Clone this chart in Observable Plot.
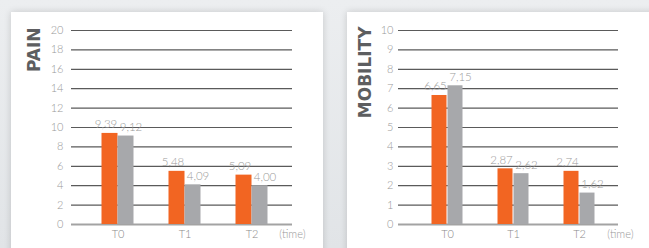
<!DOCTYPE html>
<html>
<head>
<meta charset="utf-8">
<script src="https://cdn.jsdelivr.net/npm/d3@7"></script>
<script src="https://cdn.jsdelivr.net/npm/@observablehq/plot@0.6"></script>
<style>
  html, body { margin: 0; padding: 0; }
  #wrap { position: relative; width: 649px; height: 248px; overflow: hidden;
          background: linear-gradient(180deg, #eceef0 0%, #e1e4e7 100%); }
  .panel { position: absolute; top: 12px; height: 250px; background: #fff;
           box-shadow: 0 0 7px rgba(0,0,0,0.16); }
  #left { left: 11px; width: 312px; }
  #right { left: 347px; width: 310px; }
  .panel svg { display: block; }
</style>
</head>
<body>
<div id="wrap">
  <div class="panel" id="left"></div>
  <div class="panel" id="right"></div>
</div>
<script>
// ---- data ----
const times = ["T0", "T1", "T2"];
const series = ["Group 1", "Group 2"];
const painGroup1 = [9.39, 5.48, 5.09];
const painGroup2 = [9.12, 4.09, 4.00];
const mobilityGroup1 = [6.65, 2.87, 2.74];
const mobilityGroup2 = [7.15, 2.62, 1.62];
const painTicks = [0, 2, 4, 6, 8, 10, 12, 14, 16, 18, 20];
const mobilityTicks = [0, 1, 2, 3, 4, 5, 6, 7, 8, 9, 10];
const painTitle = "PAIN";
const mobilityTitle = "MOBILITY";
const timeLabel = "(time)";

const fmt = v => v.toFixed(2).replace(".", ",");
const rowsOf = (a, s) => times.map((t, i) => ({time: t, value: a[i], series: s}));

function chart({title, g1, g2, ticks, width, marginLeft, tickPadding, paddingOuter, align, titleDx, titleDy, timeDx}) {
  const r1 = rowsOf(g1, series[0]);
  const r2 = rowsOf(g2, series[1]);
  const lightFont = {fontFamily: "Lato, 'Open Sans', sans-serif", fontWeight: 300};
  return Plot.plot({
    width, height: 236,
    marginLeft, marginRight: 31, marginTop: 18, marginBottom: 24,
    style: {fontFamily: "Lato, sans-serif", fontSize: "10px", background: "transparent", overflow: "visible"},
    x: {domain: times, padding: 0, paddingOuter, align},
    y: {domain: [0, ticks[ticks.length - 1]]},
    marks: [
      Plot.gridY(ticks, {stroke: "#5a5a5a", strokeOpacity: 1, strokeWidth: 1.2}),
      Plot.ruleY([0], {stroke: "#a3a3a3", strokeWidth: 2}),
      Plot.axisY(ticks, {tickSize: 0, tickPadding, label: null, fill: "#999", ...lightFont, fontSize: 11}),
      Plot.axisX({tickSize: 0, tickPadding: 6, label: null, fill: "#8a8a8a", ...lightFont, fontSize: 11}),
      Plot.barY(r1, {x: "time", y: "value", fill: "#f26522", insetLeft: 17.5, insetRight: 33.5}),
      Plot.barY(r2, {x: "time", y: "value", fill: "#a7a8ab", insetLeft: 33.5, insetRight: 17.5}),
      Plot.text(r1, {x: "time", y: "value", text: d => fmt(d.value), dx: -12, dy: -5, lineAnchor: "bottom", fill: "#9b9b9b", ...lightFont, fontSize: 11.5}),
      Plot.text(r2, {x: "time", y: "value", text: d => fmt(d.value), dx: 13, dy: -5, lineAnchor: "bottom", fill: "#9b9b9b", ...lightFont, fontSize: 11.5}),
      Plot.text([title], {frameAnchor: "top-left", rotate: -90, textAnchor: "end", lineAnchor: "middle",
        dx: titleDx, dy: titleDy, fontFamily: "'DejaVu Sans', sans-serif", fontWeight: "bold", fontSize: 17, fill: "#5d5e60"}),
      Plot.text([timeLabel], {frameAnchor: "bottom-right", textAnchor: "end", lineAnchor: "top",
        dx: timeDx, dy: 6, fill: "#999", ...lightFont, fontSize: 11})
    ]
  });
}

document.getElementById("left").append(chart({
  title: painTitle, g1: painGroup1, g2: painGroup2, ticks: painTicks,
  width: 312, marginLeft: 60, tickPadding: 8, paddingOuter: 0.149, align: 0.625,
  titleDx: -37, titleDy: -3, timeDx: 13
}));
document.getElementById("right").append(chart({
  title: mobilityTitle, g1: mobilityGroup1, g2: mobilityGroup2, ticks: mobilityTicks,
  width: 302, marginLeft: 51, tickPadding: 5, paddingOuter: 0.142, align: 0.71,
  titleDx: -33, titleDy: -4, timeDx: 15
}));
</script>
</body>
</html>
